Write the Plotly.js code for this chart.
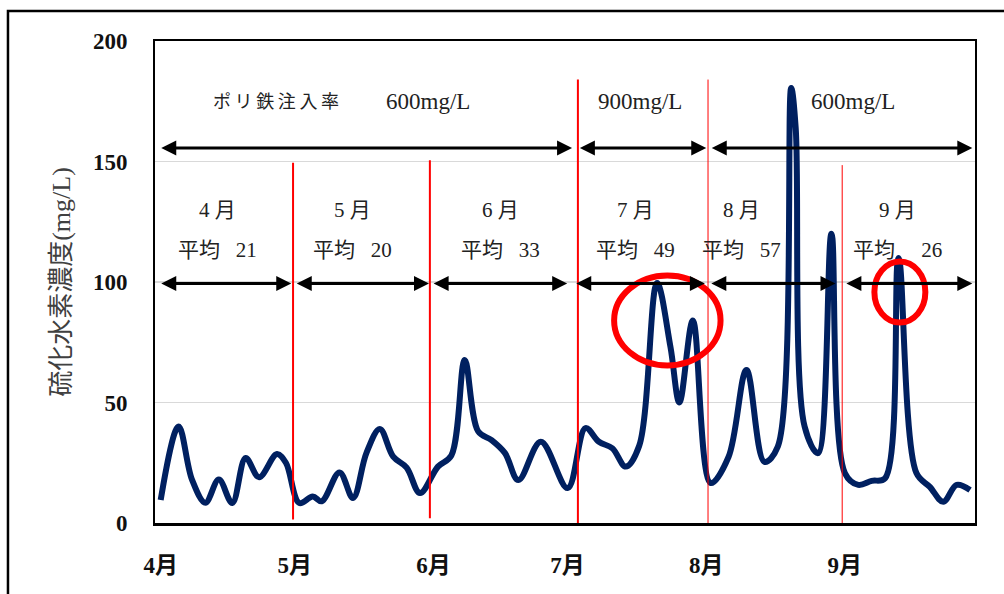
<!DOCTYPE html>
<html>
<head>
<meta charset="utf-8">
<script src="https://cdn.plot.ly/plotly-3.0.1.min.js"></script>
<style>html,body{margin:0;padding:0;background:#fff;}#chart{width:1004px;height:594px;}</style>
</head>
<body>
<div id="chart"></div>
<script>
// ---- data ----
const sampleDates = [
  '2019-04-01','2019-04-05','2019-04-08','2019-04-11','2019-04-14','2019-04-17','2019-04-20','2019-04-23','2019-04-27','2019-04-29',
  '2019-05-02','2019-05-05','2019-05-07','2019-05-11','2019-05-14','2019-05-17','2019-05-20','2019-05-23','2019-05-26','2019-05-29',
  '2019-06-02','2019-06-05','2019-06-08','2019-06-11','2019-06-14','2019-06-17','2019-06-20','2019-06-25',
  '2019-07-01','2019-07-05','2019-07-08','2019-07-11','2019-07-14','2019-07-17','2019-07-21','2019-07-24','2019-07-26','2019-07-29',
  '2019-08-02','2019-08-06','2019-08-10','2019-08-14','2019-08-17','2019-08-20','2019-08-21','2019-08-23','2019-08-26','2019-08-29',
  '2019-09-01','2019-09-04','2019-09-07','2019-09-10','2019-09-13','2019-09-17','2019-09-20','2019-09-23','2019-09-26','2019-09-29'
];
const h2sValues = [
  9.5,40,18,8.4,18,8.3,27,19,28.6,25,
  8.3,11,9,21,10.4,29,39,27.5,23,12.4,
  23.4,28,67.6,38,34.4,29,17.8,33.7,
  14.5,39.4,33.7,31,23.4,32,99.6,73,50,84,
  16.6,27.5,63.5,25.4,31.7,180.5,164,40,29,120,
  20.7,15.8,17.5,18.6,110,20.7,15,8.8,15.8,13.7
];
const monthTicks = ['2019-04-01','2019-05-01','2019-06-01','2019-07-01','2019-08-01','2019-09-01'];
const monthLabels = ['4月','5月','6月','7月','8月','9月'];
const yTicks = [0,50,100,150,200];
const monthNames = ['4 月','5 月','6 月','7 月','8 月','9 月'];
const monthAverages = ['平均\u2002 21','平均\u2002 20','平均\u2002 33','平均\u2002 49','平均\u2002 57','平均\u3000 26'];
const doseLabels = ['600mg/L','900mg/L','600mg/L'];
const doseTitle = 'ポ\u2009リ\u2009鉄\u2009注\u2009入\u2009率';
const yTitle = '硫化水素濃度(mg/L)';

// ---- helpers ----
function day(d){
  return new Date(Date.UTC(2019,3,1) + Math.round(d*86400000)).toISOString().replace('T',' ').slice(0,19);
}
const txtFont = {family:'Liberation Serif, Noto Sans CJK JP', size:21, color:'#222'};

const annotations = [];
function label(d, v, text, size){
  annotations.push({xref:'x', yref:'y', x:day(d), y:v, text:text, showarrow:false,
    font:Object.assign({}, txtFont, size ? {size:size} : {}), xanchor:'center', yanchor:'middle'});
}
function dblArrow(d0, d1, v){
  annotations.push({xref:'x', yref:'y', axref:'x', ayref:'y', x:day(d1), y:v, ax:day(d0), ay:v,
    text:'', showarrow:true, arrowside:'end+start', arrowhead:2, startarrowhead:2,
    arrowsize:1, startarrowsize:1, arrowwidth:3, arrowcolor:'#000'});
}

// dosing labels
label(25.8, 174.7, doseTitle, 18);
label(59.8, 174.7, doseLabels[0], 23);
label(107.2, 174.7, doseLabels[1], 23);
label(154.8, 174.7, doseLabels[2], 23);
// month labels
const monthCenters = [12.6, 43.0, 76.0, 106.2, 129.8, 164.8];
monthCenters.forEach((d,i)=>{
  label(d, 129.9, monthNames[i]);
  label(d, 113.3, monthAverages[i]);
});
// arrows
dblArrow(-0.2, 92.0, 155.6);
dblArrow(93.4, 122.0, 155.6);
dblArrow(122.9, 181.5, 155.6);
dblArrow(-0.2, 29.2, 99.4);
dblArrow(30.1, 60.0, 99.4);
dblArrow(60.7, 90.9, 99.4);
dblArrow(92.6, 121.7, 99.4);
dblArrow(122.8, 150.9, 99.4);
dblArrow(153.0, 181.5, 99.4);

function vline(d, v0, v1, w){
  return {type:'line', xref:'x', yref:'y', x0:day(d), x1:day(d), y0:v0, y1:v1, line:{color:'#ff0000', width:w}, layer:'above'};
}
const shapes = [
  vline(29.6, 1.5, 149.5, 2),
  vline(60.2, 2, 150.5, 2),
  vline(93.3, 0, 184, 2),
  vline(122.4, 0, 184, 1),
  vline(152.4, 0, 148.5, 1),
  {type:'circle', xref:'x', yref:'y', x0:day(101.4), x1:day(125.2), y0:65.4, y1:102.7, line:{color:'#ff0000', width:6}, layer:'above'},
  {type:'circle', xref:'x', yref:'y', x0:day(159.6), x1:day(171.0), y0:83.2, y1:108.5, line:{color:'#ff0000', width:6}, layer:'above'},
  // outer frame
  {type:'rect', xref:'paper', yref:'paper', x0:-0.1793, x1:1.06, y0:-0.3, y1:1.0622, line:{color:'#000', width:2.5}, layer:'above'}
];

const trace = {
  x: sampleDates, y: h2sValues, type:'scatter', mode:'lines',
  line:{color:'#002060', width:6, shape:'spline', smoothing:1},
  hoverinfo:'skip'
};

const tickFont = {family:'Liberation Serif, Noto Sans CJK JP', size:23, color:'#111', weight:'bold'};

const layout = {
  width:1004, height:594,
  margin:{l:155, r:29, t:41, b:71, pad:0},
  paper_bgcolor:'#fff', plot_bgcolor:'#fff',
  showlegend:false,
  xaxis:{
    type:'date', range:[day(-1.27), day(182.1)],
    tickvals:monthTicks, ticktext:monthLabels, tickfont:tickFont,
    showgrid:false, zeroline:false, showline:true, mirror:true, linecolor:'#000', linewidth:2.5,
    ticks:'', ticklabelstandoff:20, fixedrange:true
  },
  yaxis:{
    range:[0,200], tickvals:yTicks, tickfont:tickFont,
    showgrid:true, gridcolor:'#d9d9d9', gridwidth:1.5, zeroline:false,
    showline:true, mirror:true, linecolor:'#000', linewidth:2,
    ticks:'', ticklabelstandoff:21,
    title:{text:yTitle, font:{family:'Liberation Serif, Noto Sans CJK JP', size:26, color:'#404040'}, standoff:15},
    fixedrange:true
  },
  annotations:annotations,
  shapes:shapes
};

Plotly.newPlot('chart', [trace], layout, {staticPlot:true, displayModeBar:false});
</script>
</body>
</html>
